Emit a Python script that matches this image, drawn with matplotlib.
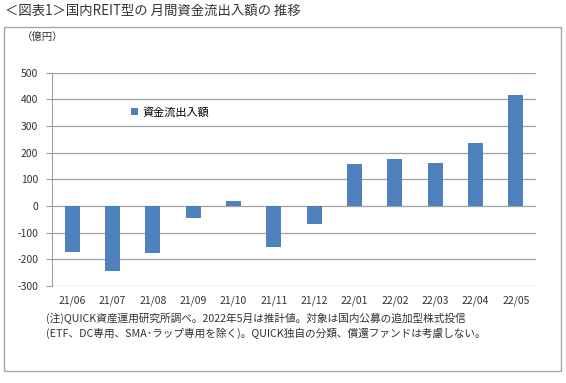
import matplotlib
matplotlib.use('Agg')
import matplotlib.pyplot as plt
from matplotlib.patches import Rectangle

plt.rcParams['font.family'] = ['Noto Sans CJK JP', 'DejaVu Sans']

months = ['21/06', '21/07', '21/08', '21/09', '21/10', '21/11',
          '21/12', '22/01', '22/02', '22/03', '22/04', '22/05']
flows = [-173, -245, -177, -45, 19, -154, -69, 157, 177, 160, 236, 417]
yticks = [-300, -200, -100, 0, 100, 200, 300, 400, 500]

W, H = 566, 383
fig = plt.figure(figsize=(W / 100, H / 100), dpi=100)
fig.patch.set_facecolor('white')

# 外枠
fig.patches.append(Rectangle((4 / W, 1 - 371 / H), 557 / W, 344 / H,
                             transform=fig.transFigure, fill=False,
                             edgecolor='#a6a6a6', linewidth=1.0))

ax = fig.add_axes([52 / W, 1 - 286 / H, (536 - 52) / W, (286 - 72.7) / H])
x = range(len(months))
ax.bar(x, flows, width=0.37, color='#4f81bd', zorder=3, label='資金流出入額')

ax.set_ylim(-300, 500)
ax.set_xlim(-0.5, len(months) - 0.5)
ax.set_yticks(yticks)
ax.set_yticklabels([str(v) for v in yticks], fontsize=7.5, color='#333333')
ax.set_xticks(list(x))
ax.set_xticklabels(months, fontsize=7.5, color='#333333')
ax.tick_params(axis='x', length=0, pad=7)
ax.tick_params(axis='y', length=4, color='#a0a0a0', pad=6)
ax.grid(axis='y', color='#a0a0a0', linewidth=0.9, zorder=0)
for s in ['top', 'right', 'bottom']:
    ax.spines[s].set_visible(False)
ax.spines['left'].set_color('#a0a0a0')

ax.legend(loc='upper left', bbox_to_anchor=(0.155, 0.86), frameon=False,
          fontsize=8, handlelength=0.6, handleheight=0.6, handletextpad=0.4,
          borderaxespad=0)

fig.text(5 / W, 1 - 11 / H, '＜図表1＞国内REIT型の 月間資金流出入額の 推移',
         fontsize=9.6, color='#333333', va='center', ha='left')
fig.text(22 / W, 1 - 37 / H, '（億円）', fontsize=7.5, color='#333333',
         va='center', ha='left')
fig.text(46 / W, 1 - 318 / H,
         '(注)QUICK資産運用研究所調べ。2022年5月は推計値。対象は国内公募の追加型株式投信',
         fontsize=7.7, color='#333333', va='center', ha='left')
fig.text(46 / W, 1 - 333 / H,
         '(ETF、DC専用、SMA･ラップ専用を除く)。QUICK独自の分類、償還ファンドは考慮しない。',
         fontsize=7.7, color='#333333', va='center', ha='left')

fig.savefig('out.png', dpi=100)
